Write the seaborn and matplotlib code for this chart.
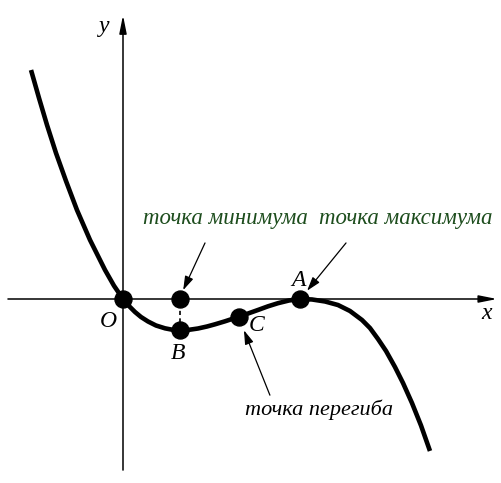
import matplotlib
matplotlib.use("Agg")
import matplotlib.pyplot as plt
import seaborn as sns
import pandas as pd

# Curve (units: A sits at x = 3, B at about x = 1).
curveX = [-1.559, -1.424, -1.288, -1.136, -0.966, -0.780, -0.559, -0.305, -0.153, 0.000,
          0.102, 0.203, 0.305, 0.424, 0.559, 0.712, 0.831, 0.966, 1.119, 1.271,
          1.424, 1.559, 1.729, 1.847, 1.966, 2.119, 2.288, 2.458, 2.627, 2.814,
          3.000, 3.203, 3.424, 3.644, 3.847, 4.051, 4.186, 4.322, 4.458, 4.610,
          4.746, 4.898, 5.051, 5.203]
curveY = [3.881, 3.407, 2.949, 2.475, 2.000, 1.508, 1.000, 0.492, 0.225, 0.000,
          -0.119, -0.220, -0.305, -0.381, -0.449, -0.497, -0.520, -0.529, -0.522, -0.500,
          -0.466, -0.429, -0.378, -0.339, -0.300, -0.246, -0.186, -0.124, -0.071, -0.025,
          0.000, -0.008, -0.042, -0.102, -0.203, -0.356, -0.492, -0.678, -0.881, -1.153,
          -1.424, -1.763, -2.144, -2.576]

# Marked points: O, B, C, A and the projection of B on the x axis.
pointNames = ["O", "B", "C", "A", ""]
pointX     = [0.000, 0.966, 1.966, 3.000, 0.966]
pointY     = [0.000, -0.529, -0.300, 0.000, 0.000]

labelText  = ["точка минимума", "точка максимума", "точка перегиба"]

curve  = pd.DataFrame({"x": curveX, "y": curveY})
points = pd.DataFrame({"x": pointX, "y": pointY, "name": pointNames})

sns.set_theme(style="white")
plt.rcParams["font.family"] = ["Liberation Serif", "DejaVu Serif"]

figure = plt.figure(figsize=(5.02, 4.83), dpi=100)
axis   = figure.add_axes([0, 0, 1, 1])
axis.set_xlim(-123 / 59, 379 / 59)
axis.set_ylim(-184 / 59, 299 / 59)
axis.set_axis_off()

# Coordinate axes with arrow heads.
axisArrow = dict(arrowstyle="-|>,head_length=0.9,head_width=0.18", lw=1.1, color="black",
                 shrinkA=0, shrinkB=0)
axis.annotate("", xy=(6.34, 0), xytext=(-1.95, 0), arrowprops=axisArrow, zorder=1)
axis.annotate("", xy=(0, 4.81), xytext=(0, -2.90), arrowprops=axisArrow, zorder=1)

# Dashed drop line from the minimum to the x axis.
axis.plot([pointX[1], pointX[4]], [pointY[1], pointY[4]], ls=(0, (2.5, 2)), lw=1.2, color="black", zorder=2)

sns.lineplot(data=curve, x="x", y="y", sort=False, color="black", lw=3.3, ax=axis, zorder=3,
             solid_joinstyle="round", solid_capstyle="butt")
sns.scatterplot(data=points, x="x", y="y", color="black", s=150, edgecolor="black", ax=axis, zorder=4)

italic = dict(style="italic", fontsize=17, color="black")
axis.text(-0.31, 4.62, "y", ha="center", va="center", **italic)
axis.text(6.17, -0.24, "x", ha="center", va="center", **italic)
axis.text(-0.25, -0.38, "O", ha="center", va="center", **italic)
axis.text(2.97, 0.31, "A", ha="center", va="center", **italic)
axis.text(0.93, -0.92, "B", ha="center", va="center", **italic)
axis.text(2.27, -0.45, "C", ha="center", va="center", **italic)

green = "#1d4d1d"
axis.text(0.34, 1.37, labelText[0], ha="left", va="center", style="italic", fontsize=16.5, color=green)
axis.text(3.32, 1.37, labelText[1], ha="left", va="center", style="italic", fontsize=16.5, color=green)
axis.text(2.07, -1.88, labelText[2], ha="left", va="center", style="italic", fontsize=16, color="black")

callArrow = dict(arrowstyle="-|>,head_length=0.7,head_width=0.22", lw=0.9, color="black",
                 shrinkA=0, shrinkB=0)
axis.annotate("", xy=(1.02, 0.15), xytext=(1.39, 0.95), arrowprops=callArrow, zorder=5)
axis.annotate("", xy=(3.12, 0.14), xytext=(3.78, 0.95), arrowprops=callArrow, zorder=5)
axis.annotate("", xy=(2.05, -0.53), xytext=(2.49, -1.63), arrowprops=callArrow, zorder=5)

figure.savefig("out.png", dpi=100)
